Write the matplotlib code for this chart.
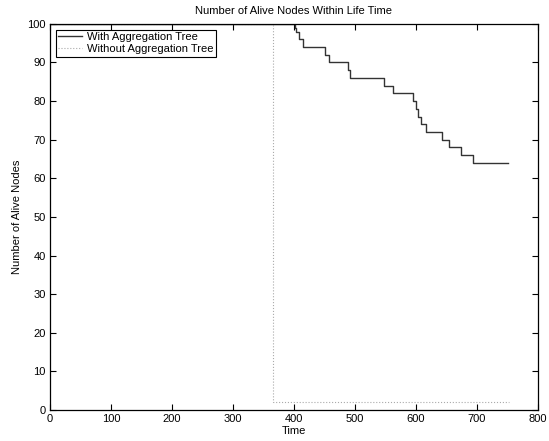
import matplotlib
matplotlib.use("Agg")
from matplotlib import pyplot as plt

# series (time, alive nodes), drawn as steps
with_time = [0, 400, 401, 404, 408, 415, 451, 457, 488, 492, 547, 563,
             595, 600, 603, 608, 616, 642, 654, 674, 693, 751]
with_alive = [100, 100, 99, 98, 96, 94, 92, 90, 88, 86, 84, 82,
              80, 78, 76, 74, 72, 70, 68, 66, 64, 64]

without_time = [0, 365, 753]
without_alive = [100, 2, 2]

plt.rcParams['font.family'] = ['Liberation Sans', 'DejaVu Sans']
plt.rcParams['font.size'] = 8

fig = plt.figure(figsize=(5.49, 4.41), dpi=100)
ax = fig.add_axes([0.091, 0.070, 0.889, 0.876])

ax.step(with_time, with_alive, where='post', color='#333333', linewidth=1.0,
        label='With Aggregation Tree')
ax.step(without_time, without_alive, where='post', color='#aaaaaa', linewidth=0.8,
        linestyle=':', label='Without Aggregation Tree')

ax.set_xlim(0, 800)
ax.set_ylim(0, 100)
ax.set_xticks(range(0, 801, 100))
ax.set_yticks(range(0, 101, 10))
ax.tick_params(direction='in', length=4, width=0.8, top=True, right=True,
               labelsize=8, pad=3)
for s in ax.spines.values():
    s.set_linewidth(0.9)

ax.set_title('Number of Alive Nodes Within Life Time', fontsize=8, pad=7)
ax.set_xlabel('Time', fontsize=8, labelpad=1)
ax.set_ylabel('Number of Alive Nodes', fontsize=8, labelpad=4)

leg = ax.legend(loc='upper left', prop={'size': 8}, fancybox=False, framealpha=1,
                edgecolor='black', borderaxespad=0.55, handlelength=2.1,
                handletextpad=0.5, borderpad=0.2, labelspacing=0.2)
leg.get_frame().set_linewidth(0.8)

fig.savefig('out.png', dpi=100)
